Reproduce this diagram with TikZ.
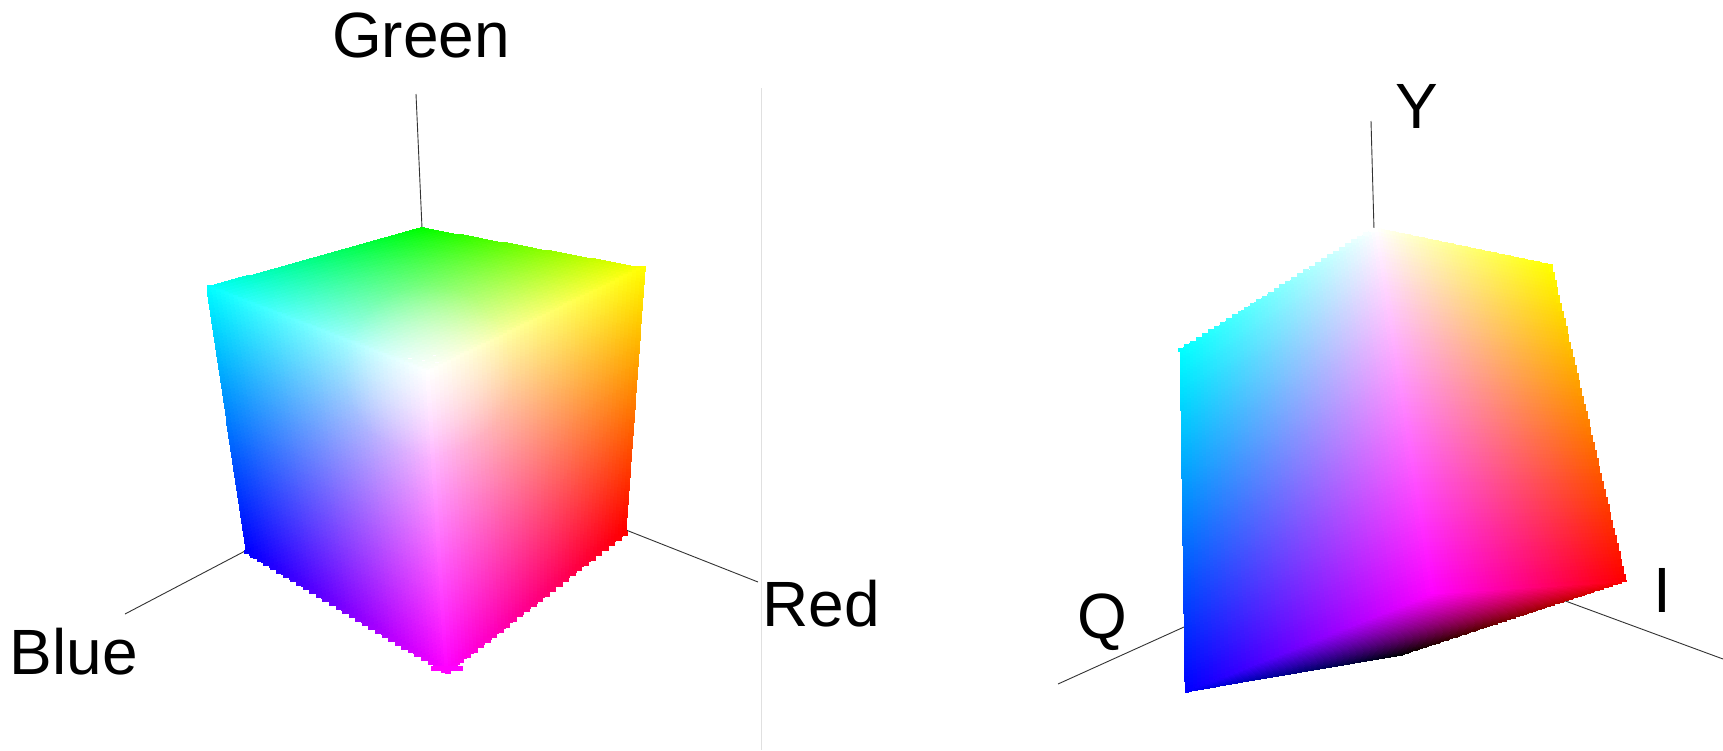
\documentclass[tikz,border=0pt]{standalone}
\usepackage{fontspec}
\setmainfont{Liberation Sans}
\usetikzlibrary{fadings}
\tikzfading[name=whiteglow, inner color=transparent!55, outer color=transparent!100]
\makeatletter
\newcount\mfi \newcount\mfj
\def\mf@parse#1#2,#3,#4,#5,#6\relax{%
  \expandafter\def\csname mf#1x\endcsname{#2}%
  \pgfmathsetmacro\mf@tmp{-#3}\expandafter\let\csname mf#1y\endcsname\mf@tmp
  \expandafter\def\csname mf#1r\endcsname{#4}%
  \expandafter\def\csname mf#1g\endcsname{#5}%
  \expandafter\def\csname mf#1b\endcsname{#6}}
% corners: x,y,r,g,b in order A(top-left) B(top-right) C(bottom-right) D(bottom-left)
% #5,#6 mesh counts, #7,#8 size of the small rectangle painted at each mesh point
\newcommand\meshface[8]{%
  \begingroup
  \mf@parse a#1\relax\mf@parse b#2\relax\mf@parse c#3\relax\mf@parse d#4\relax
  \mfj=0
  \loop\ifnum\mfj<\numexpr#6+1\relax
    {\pgfmathsetmacro\mf@v{\the\mfj/#6}%
     \mf@rowall
     \mfi=0
     \loop\ifnum\mfi<\numexpr#5+1\relax
       \pgfmathsetmacro\mf@u{\the\mfi/#5}%
       \pgfmathsetmacro\mf@x{\mfLx+\mf@u*\mfDx-#7/2}%
       \pgfmathsetmacro\mf@y{\mfLy+\mf@u*\mfDy-#8/2}%
       \pgfmathsetmacro\mf@cr{\mfLr+\mf@u*\mfDr}%
       \pgfmathsetmacro\mf@cg{\mfLg+\mf@u*\mfDg}%
       \pgfmathsetmacro\mf@cb{\mfLb+\mf@u*\mfDb}%
       \pgfsys@color@rgb@fill{\mf@cr}{\mf@cg}{\mf@cb}%
       \pgfsys@rect{\mf@x pt}{\mf@y pt}{#7pt}{#8pt}\pgfsys@fill
       \advance\mfi by 1
     \repeat}%
    \advance\mfj by 1
  \repeat
  \endgroup}
% a row of equal rectangles along one edge: gives the staircase outline
\newcommand\stairedge[5]{\meshface{#1}{#2}{#2}{#1}{#3}{1}{#4}{#5}}
\def\mf@one#1{%
  \pgfmathsetmacro\mf@L{\csname mfa#1\endcsname+\mf@v*(\csname mfd#1\endcsname-\csname mfa#1\endcsname)}%
  \pgfmathsetmacro\mf@R{\csname mfb#1\endcsname+\mf@v*(\csname mfc#1\endcsname-\csname mfb#1\endcsname)}%
  \pgfmathsetmacro\mf@D{\mf@R-\mf@L}%
  \expandafter\let\csname mfL#1\endcsname\mf@L
  \expandafter\let\csname mfD#1\endcsname\mf@D}
\def\mf@rowall{\mf@one x\mf@one y\mf@one r\mf@one g\mf@one b}
\makeatother
\tikzset{
  axisline/.style={draw=black!80,line width=0.9pt},
  divider/.style={draw=black!12,line width=1pt},
  axislabel/.style={inner sep=0pt,text=black,font=\fontsize{64}{70}\selectfont}
}
\begin{document}
\begin{tikzpicture}[x=1pt,y=-1pt]
\useasboundingbox (0,0) rectangle (1723,750);
\fill[white] (0,0) rectangle (1723,750);
% divider
\coordinate (divT) at (761,88);
\coordinate (divB) at (761,750);
\draw[divider] (divT) -- (divB);
% axes, left
\coordinate (gT) at (416,94);
\coordinate (gB) at (422,228);
\coordinate (bO) at (125,614);
\coordinate (bI) at (247,550);
\coordinate (rO) at (758,582);
\coordinate (rI) at (626,530);
\draw[axisline] (gT) -- (gB);
\draw[axisline] (bO) -- (bI);
\draw[axisline] (rO) -- (rI);
% axes, right
\coordinate (yT) at (1371,121);
\coordinate (yB) at (1374,230);
\coordinate (qO) at (1058,684);
\coordinate (qI) at (1184,627);
\coordinate (iO) at (1723,659);
\coordinate (iI) at (1560,599);
\draw[axisline] (yT) -- (yB);
\draw[axisline] (qO) -- (qI);
\draw[axisline] (iO) -- (iI);
% faces
\begin{pgfscope}
% RGB cube
\meshface{209,288,0,1,1}{422,229,0,1,0}{643,269,1,1,0}{428,373,1,1,1}{60}{45}{5}{3.4}
\meshface{209,288,0,1,1}{428,373,1,1,1}{447,670,1,0,1}{248,551,0,0,1}{50}{80}{5}{5.5}
\meshface{428,373,1,1,1}{643,269,1,1,0}{624,531,1,0,0}{447,670,1,0,1}{50}{80}{5}{6}
\stairedge{247,552,0,0,1}{444,671,1,0,1}{30}{6.7}{4.6}
\stairedge{448,671,1,0,1}{625,533,1,0,0}{27}{6.7}{5}
\stairedge{434,668,1,0,1}{460,668,1,0,1}{4}{6.7}{5}
% YIQ solid
\meshface{1182,352,0,1,1}{1377,230,1,1,1}{1433,593,1,0,1}{1187,690,0,0,1}{60}{90}{4.8}{5.8}
\meshface{1377,230,1,1,1}{1549,266,1,1,0}{1623,580,1,0,0}{1433,593,1,0,1}{60}{90}{4}{4.6}
\stairedge{1181,350,0,1,1}{1372,230,1,1,1}{32}{6}{3.8}
\stairedge{1551,268,1,1,0}{1624,578,1,0,0}{40}{4}{8}
\meshface{1187,691,0,0,1}{1403,654,0,0,0}{1625,581,1,0,0}{1433,593,1,0,1}{110}{50}{3}{2.4}
\end{pgfscope}
% soft glow that blurs the creases round the white corner
\fill[white,path fading=whiteglow] (428,370) circle [radius=85];
% labels
\node[axislabel] (lgreen) at (421,35) {Green};
\node[axislabel] (lblue) at (74,652) {Blue};
\node[axislabel] (lred) at (821,604) {Red};
\node[axislabel] (ly) at (1417,106) {Y};
\node[axislabel] (lq) at (1102,622) {Q};
\node[axislabel] (li) at (1662,590) {I};
\end{tikzpicture}
\end{document}
